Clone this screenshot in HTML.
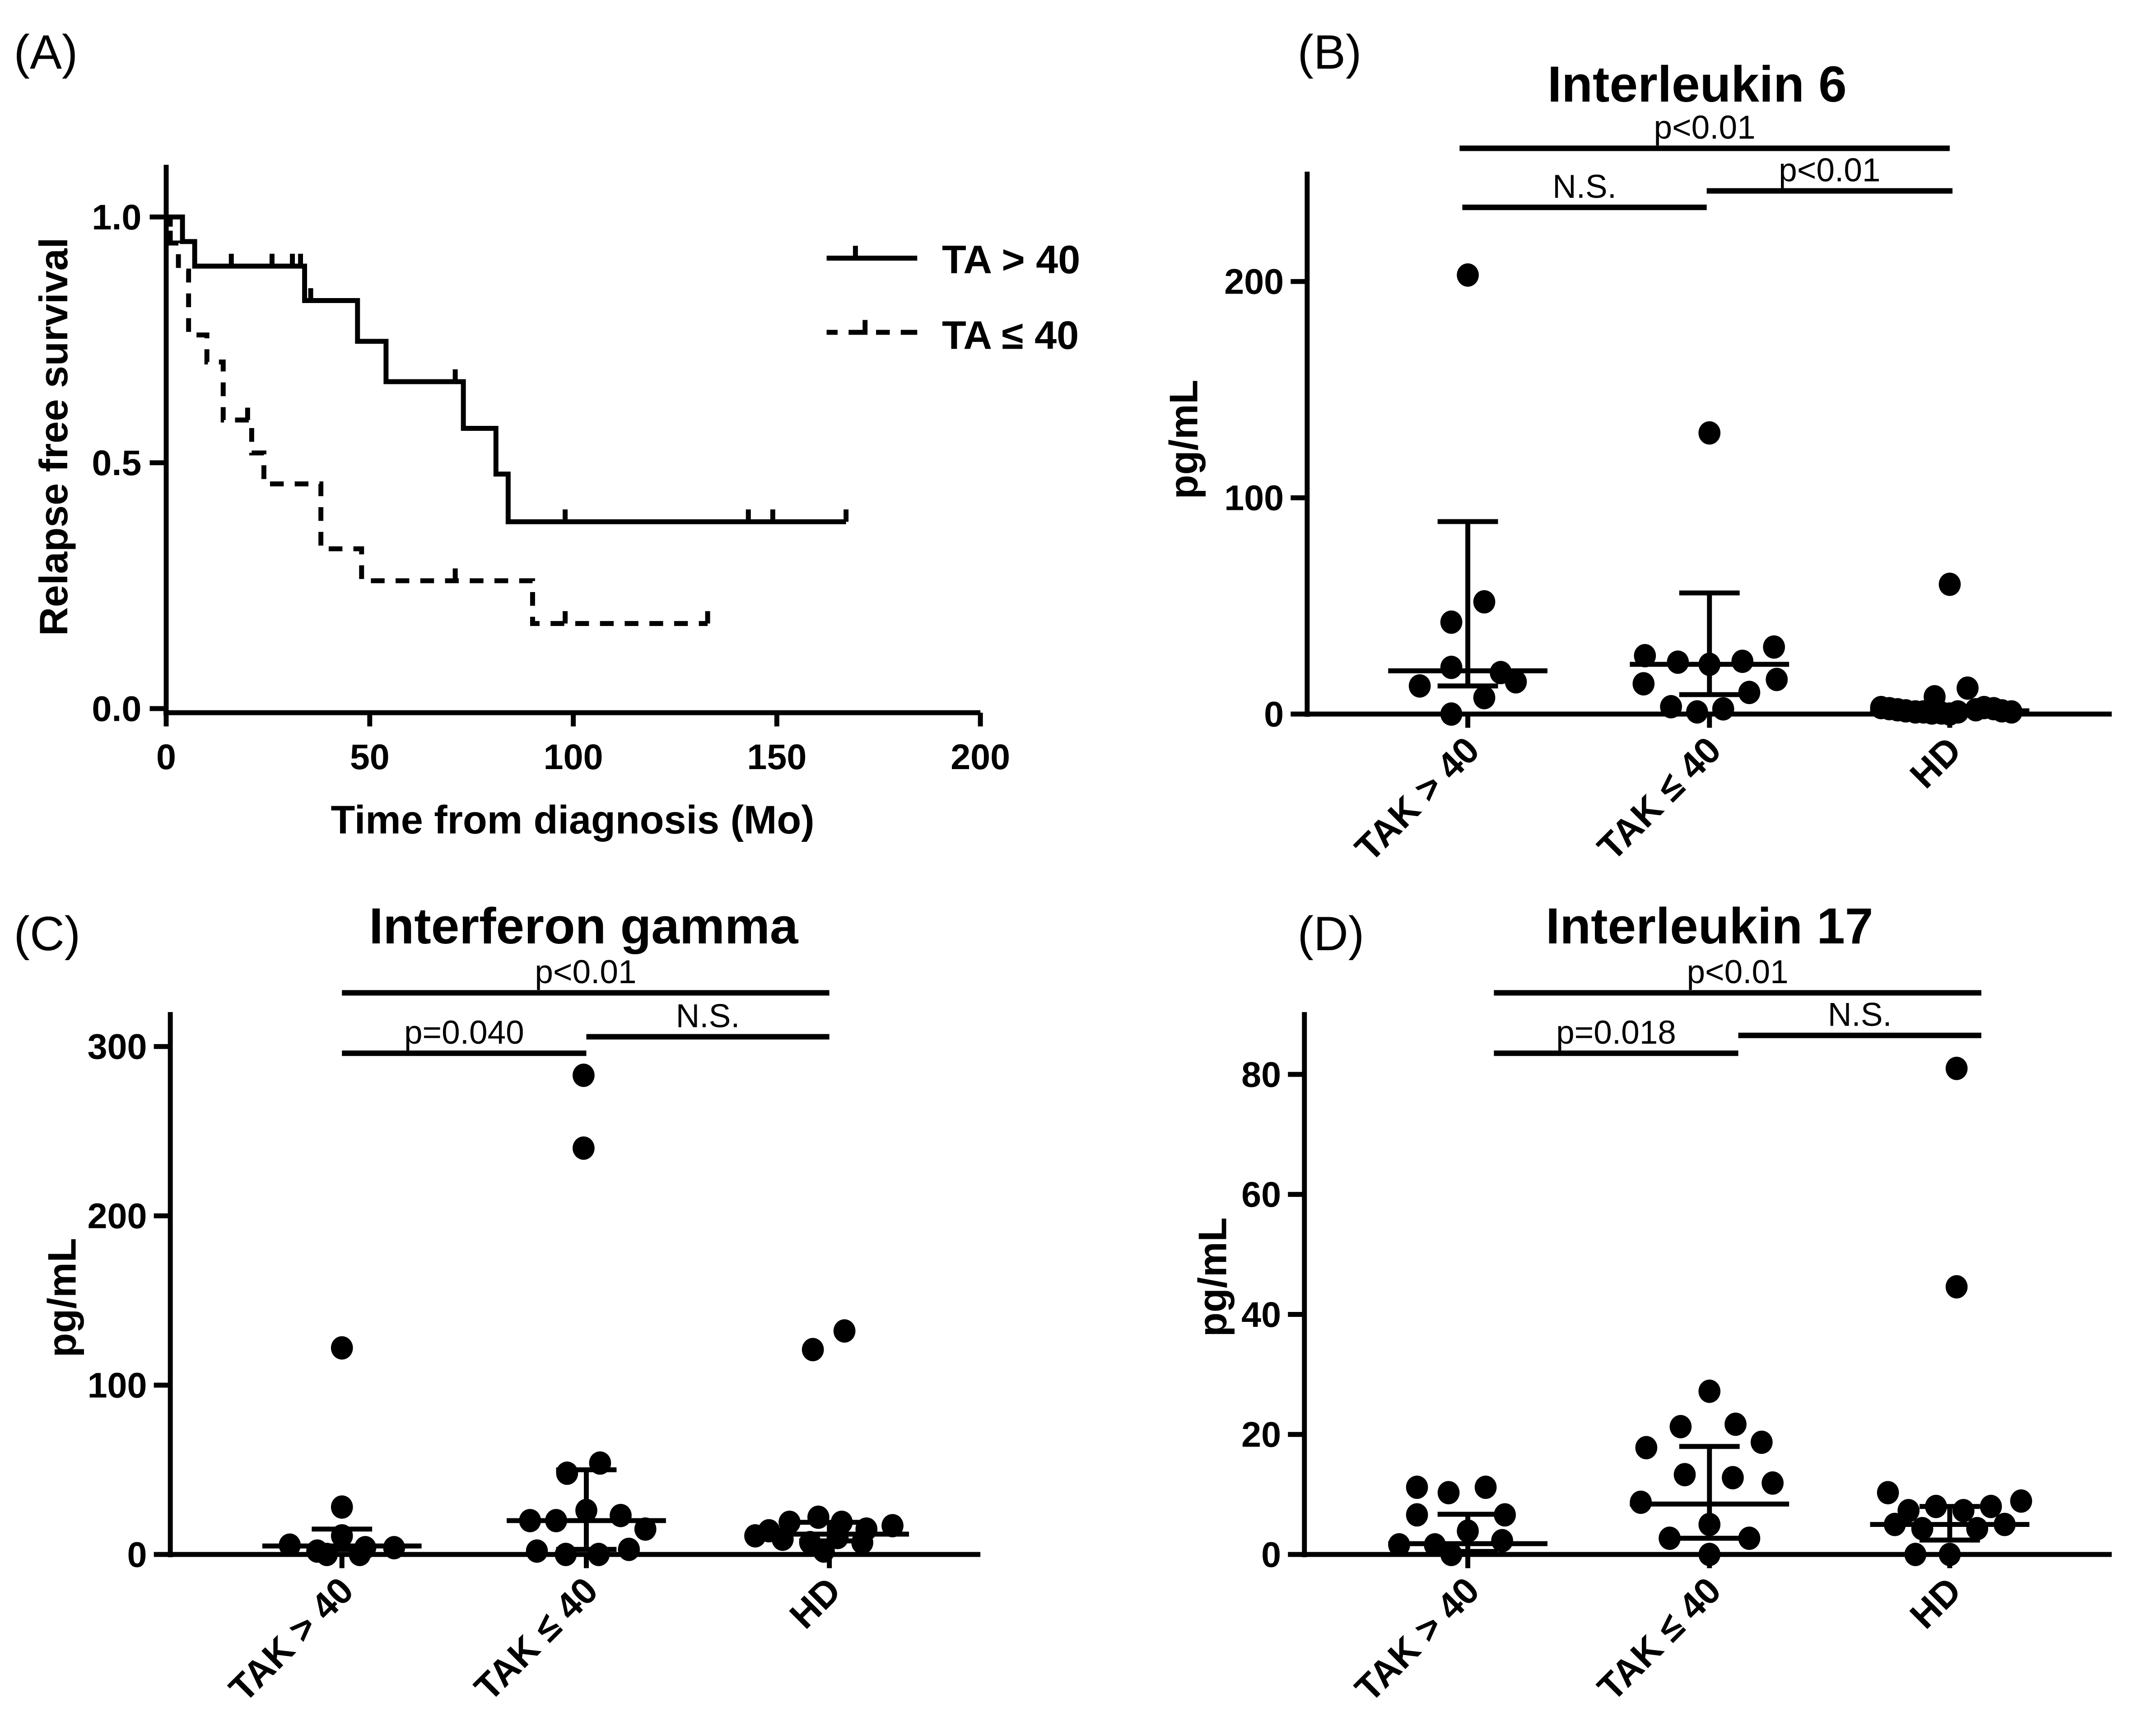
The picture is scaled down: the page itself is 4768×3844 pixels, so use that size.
<!DOCTYPE html>
<html><head><meta charset="utf-8">
<style>
html,body{margin:0;padding:0;background:#fff;}
svg{display:block;}
text{font-family:"Liberation Sans",Arial,sans-serif;fill:#000;}
.b{font-weight:bold;}
</style></head>
<body>
<svg id="fig" xmlns="http://www.w3.org/2000/svg" width="4768" height="3844" viewBox="0 0 1568 1264.2">
<rect width="1568" height="1264.2" fill="#fff"/>
<g id="panelA"></g>
<g id="panelB"></g>
<g id="panelC"></g>
<g id="panelD"></g>
</svg>
<script>
// ---------- Panel A data ----------
const survTA40Times = [0, 4, 7, 34, 47, 54, 73, 81, 84, 167];
const survTA40Vals  = [1.0, 0.95, 0.90, 0.83, 0.747, 0.665, 0.57, 0.477, 0.38, 0.38];
const censTA40Times = [16, 26, 31, 33, 35.5, 71, 98, 143, 149, 167];
const survLE40Times = [0, 1, 3, 5.5, 10, 14, 21, 24, 38, 48, 90, 133];
const survLE40Vals  = [1.0, 0.947, 0.89, 0.76, 0.705, 0.587, 0.52, 0.457, 0.325, 0.26, 0.173, 0.173];
const censLE40Times = [1, 20, 71, 98, 133];
const aXTicks = [0, 50, 100, 150, 200];
const aYTicks = [0.0, 0.5, 1.0];
const aYTickLabels = ["0.0", "0.5", "1.0"];

// ---------- Scatter panel data ----------
const groupLabels = ["TAK > 40", "TAK \u2264 40", "HD"];
const il6Vals = [[203,51.9,42.5,21.6,19.2,14.9,13,7.6,0],[130,31,27,24,23,24.4,16,14,10,3.4,1,2.4],[60,12,8,3,2.5,2,1.5,1,1,0.5,0.5,0,1,2,3,2.5,1.5,1]];
const il6Offsets = [[0,12,-12,-12,24,35,-35,12,-12],[0,47,-47,-23,0,24,49,-48,29,-28,-9,10],[0,13,-11,-50,-44,-38,-32,-25,-19,-13,-6,0,6,19,25,32,38,45]];
const il6Median = [20, 23, 1.5];
const il6Upper = [89, 56, 3];
const il6Lower = [13, 9, 0.5];
const il6Ticks = [0, 100, 200];

const ifnVals = [[122,28,5.5,2,11,4,4,0,0],[283,240,54,48,20,20,26,23,15,2,0,0,3],[121,132,19,22,19,14,17,15,11,9,7,10,7,2]];
const ifnOffsets = [[0,0,-38,-18,0,17,38,-11,13],[-2,-2,10,-14,-41,-22,0,25,43,-36,-15,9,31],[-12,11,-29,-8,9,-44,46,27,-54,-34,-14,6,24,-4]];
const ifnMedian = [5, 20, 12];
const ifnUpper = [15, 50, 19];
const ifnLower = [3, 3, 8];
const ifnTicks = [0, 100, 200, 300];

const il17Vals = [[11.2,10.3,11.2,6.6,6.6,3.9,1.6,1.6,2.3,0],[27.2,21.3,21.7,17.8,18.7,13.3,12.8,8.7,11.9,2.7,2.7,0,5],[81,44.6,10.3,8.9,7.3,8,7.3,8,5,5,4.3,4.3,0,0]];
const il17Offsets = [[-37,-14,13,-37,27,0,-50,-24,25,-12],[0,-21,19,-46,38,-18,17,-50,46,-29,29,0,0],[5,5,-45,52,-30,-10,10,30,-40,40,-20,20,0,-25]];
const il17Median = [1.8, 8.4, 5];
const il17Upper = [6.7, 18, 8];
const il17Lower = [0.5, 2.7, 2.4];
const il17Ticks = [0, 20, 40, 60, 80];

const NS = "http://www.w3.org/2000/svg";
function mk(parent, tag, attrs, txt) {
  const e = document.createElementNS(NS, tag);
  for (const k in attrs) e.setAttribute(k, attrs[k]);
  if (txt !== undefined) e.textContent = txt;
  parent.appendChild(e);
  return e;
}
const SW = 3.6;

// ---------- Panel A ----------
(function(){
  const g = document.getElementById('panelA');
  const x = t => 121 + t * 2.965;
  const y = s => 516 - s * 358;
  let t = mk(g,'text',{x:10,y:50,'font-size':35},'(A)');
   
  let ax = mk(g,'line',{x1:121,y1:120,x2:121,y2:521,stroke:'#000','stroke-width':SW});
   
  ax = mk(g,'line',{x1:119,y1:519,x2:714,y2:519,stroke:'#000','stroke-width':SW});
   
  aXTicks.forEach(v=>{
    const l = mk(g,'line',{x1:x(v),y1:519,x2:x(v),y2:529,stroke:'#000','stroke-width':SW});
     
    const tx = mk(g,'text',{x:x(v),y:560,'font-size':26,'text-anchor':'middle',class:'b'},String(v));
     
  });
  aYTicks.forEach((v,i)=>{
    const l = mk(g,'line',{x1:109,y1:y(v),x2:121,y2:y(v),stroke:'#000','stroke-width':SW});
     
    const tx = mk(g,'text',{x:103,y:y(v)+9,'font-size':26,'text-anchor':'end',class:'b'},aYTickLabels[i]);
     
  });
  let tt = mk(g,'text',{x:417,y:607,'font-size':29,'text-anchor':'middle',class:'b'},'Time from diagnosis (Mo)');
   
  tt = mk(g,'text',{x:0,y:0,'font-size':29,'text-anchor':'middle',class:'b',transform:'translate(49,318) rotate(-90)'},'Relapse free survival');
   
  function stepPath(times, vals){
    let d = 'M'+x(times[0])+','+y(vals[0]);
    for(let i=1;i<times.length;i++){ d+=' H'+x(times[i])+' V'+y(vals[i]); }
    return d;
  }
  function valAt(times, vals, tm){ let v=vals[0]; for(let i=0;i<times.length;i++){ if(times[i]<=tm) v=vals[i]; } return v; }
  let p = mk(g,'path',{d:stepPath(survTA40Times,survTA40Vals),fill:'none',stroke:'#000','stroke-width':SW});
   
  censTA40Times.forEach(c=>{
    const v = valAt(survTA40Times,survTA40Vals,c);
    const l = mk(g,'line',{x1:x(c),y1:y(v),x2:x(c),y2:y(v)-9,stroke:'#000','stroke-width':SW});
     
  });
  p = mk(g,'path',{d:stepPath(survLE40Times,survLE40Vals),fill:'none',stroke:'#000','stroke-width':SW,'stroke-dasharray':'10,8'});
   
  censLE40Times.forEach(c=>{
    const v = valAt(survLE40Times,survLE40Vals,c);
    const l = mk(g,'line',{x1:x(c),y1:y(v),x2:x(c),y2:y(v)-9,stroke:'#000','stroke-width':SW});
     
  });
  const lg = mk(g,'g',{});
   
  let l = mk(lg,'line',{x1:602,y1:188,x2:668,y2:188,stroke:'#000','stroke-width':SW});
   
  mk(lg,'line',{x1:623,y1:188,x2:623,y2:179,stroke:'#000','stroke-width':SW});
  let lt = mk(lg,'text',{x:686,y:199,'font-size':29,class:'b'},'TA > 40');
   
  l = mk(lg,'path',{d:'M602,242 H610 M618,242 H630 V233 M638,242 H648 M656,242 H668',fill:'none',stroke:'#000','stroke-width':SW});
   
  lt = mk(lg,'text',{x:686,y:254,'font-size':29,class:'b'},'TA \u2264 40');
   
})();

// ---------- Scatter panels ----------
function scatterPanel(cfg){
  const g = document.getElementById(cfg.id);
  const y = v => cfg.y0 - v * cfg.k;
  let t = mk(g,'text',{x:cfg.lx,y:cfg.ly,'font-size':35},cfg.letter);
   
  t = mk(g,'text',{x:cfg.titleX,y:cfg.titleY,'font-size':37,'text-anchor':'middle',class:'b'},cfg.title);
   
  let ax = mk(g,'line',{x1:cfg.ax,y1:cfg.yTop,x2:cfg.ax,y2:cfg.y0+2,stroke:'#000','stroke-width':SW});
   
  ax = mk(g,'line',{x1:cfg.ax-2,y1:cfg.y0,x2:cfg.xEnd,y2:cfg.y0,stroke:'#000','stroke-width':SW});
   
  cfg.ticks.forEach(v=>{
    const l = mk(g,'line',{x1:cfg.ax-12,y1:y(v),x2:cfg.ax,y2:y(v),stroke:'#000','stroke-width':SW});
     
    const tx = mk(g,'text',{x:cfg.ax-17,y:y(v)+9,'font-size':26,'text-anchor':'end',class:'b'},String(v));
     
  });
  t = mk(g,'text',{x:0,y:0,'font-size':29,'text-anchor':'middle',class:'b',transform:'translate('+cfg.ytx+','+cfg.yty+') rotate(-90)'},'pg/mL');
   
  cfg.gx.forEach((cx,i)=>{
    const l = mk(g,'line',{x1:cx,y1:cfg.y0,x2:cx,y2:cfg.y0+10,stroke:'#000','stroke-width':SW});
     
    const tx = mk(g,'text',{x:0,y:0,'font-size':27,'text-anchor':'end',class:'b',transform:'translate('+(cx+10)+','+(cfg.y0+28)+') rotate(-45)'},groupLabels[i]);
     
    cfg.vals[i].forEach((v,j)=>{
      const c = mk(g,'ellipse',{cx:cx+cfg.offs[i][j],cy:y(v),rx:8,ry:8.5,fill:'#000'});
       
    });
    const m = mk(g,'line',{x1:cx-58,y1:y(cfg.med[i]),x2:cx+58,y2:y(cfg.med[i]),stroke:'#000','stroke-width':SW});
     
    const e = mk(g,'path',{d:'M'+cx+','+y(cfg.lo[i])+' V'+y(cfg.hi[i])+' M'+(cx-22)+','+y(cfg.hi[i])+' H'+(cx+22)+' M'+(cx-22)+','+y(cfg.lo[i])+' H'+(cx+22),fill:'none',stroke:'#000','stroke-width':SW});
     
  });
  cfg.sig.forEach(s=>{
    const l = mk(g,'line',{x1:s[0],y1:s[2],x2:s[1],y2:s[2],stroke:'#000','stroke-width':4});
     
    const tx = mk(g,'text',{x:(s[0]+s[1])/2,y:s[2]-7,'font-size':24,'text-anchor':'middle'},s[3]);
     
  });
}
scatterPanel({id:'panelB',letter:'(B)',lx:945,ly:50,title:'Interleukin 6',titleX:1236,titleY:74,
  ax:952,y0:520,k:1.575,yTop:125,xEnd:1538,gx:[1069,1245,1420],ticks:il6Ticks,ytx:872,yty:320,
  vals:il6Vals,offs:il6Offsets,med:il6Median,hi:il6Upper,lo:il6Lower,
  sig:[[1063,1420,108,'p<0.01'],[1065,1243,151,'N.S.'],[1243,1422,139,'p<0.01']]});
scatterPanel({id:'panelC',letter:'(C)',lx:10,ly:692,title:'Interferon gamma',titleX:425,titleY:687,
  ax:124,y0:1132,k:1.233,yTop:737,xEnd:714,gx:[249,427,604],ticks:ifnTicks,ytx:55,yty:945,
  vals:ifnVals,offs:ifnOffsets,med:ifnMedian,hi:ifnUpper,lo:ifnLower,
  sig:[[249,604,723,'p<0.01'],[249,427,767,'p=0.040'],[427,604,755,'N.S.']]});
scatterPanel({id:'panelD',letter:'(D)',lx:945,ly:692,title:'Interleukin 17',titleX:1245,titleY:687,
  ax:950,y0:1132,k:4.37,yTop:737,xEnd:1538,gx:[1069,1245,1420],ticks:il17Ticks,ytx:893,yty:930,
  vals:il17Vals,offs:il17Offsets,med:il17Median,hi:il17Upper,lo:il17Lower,
  sig:[[1088,1443,723,'p<0.01'],[1088,1266,767,'p=0.018'],[1266,1443,754,'N.S.']]});
</script>
</body></html>
